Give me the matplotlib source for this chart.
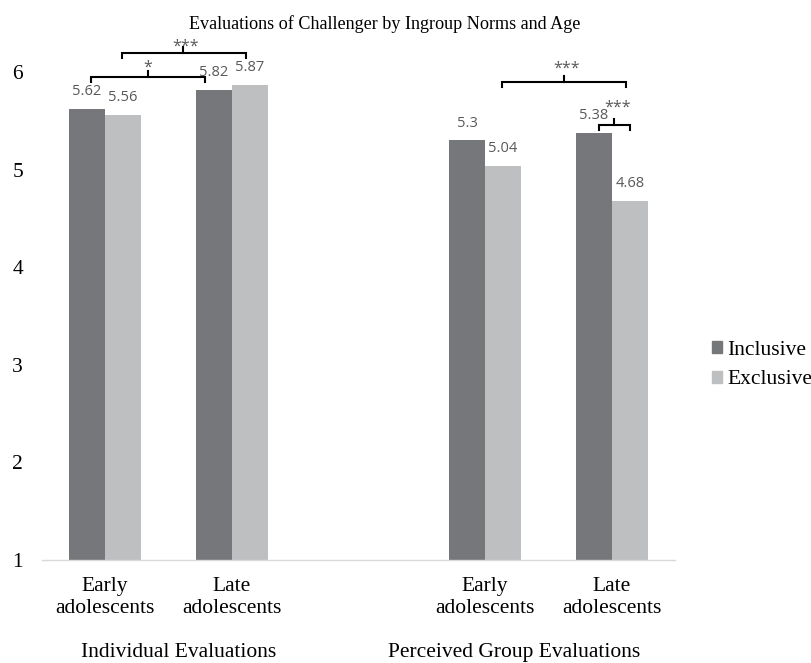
import matplotlib
matplotlib.use("Agg")
import matplotlib.pyplot as plt
from matplotlib.patches import Patch
import numpy as np

# Data
groups = ["Individual Evaluations", "Perceived Group Evaluations"]
ages = ["Early\nadolescents", "Late\nadolescents"]
series_names = ["Inclusive", "Exclusive"]
inclusive = [5.62, 5.82, 5.30, 5.38]
exclusive = [5.56, 5.87, 5.04, 4.68]
yticks = [1, 2, 3, 4, 5, 6]

# Significance brackets: (x_left, x_right, y, tick_x, star_x, star_y, label)
brackets = [
    (-0.11, 0.79, 5.95, 0.34, 0.34, 6.10, "*"),
    (0.134, 1.113, 6.195, 0.618, 0.635, 6.31, "***"),
    (3.133, 4.112, 5.90, 3.62, 3.64, 6.09, "***"),
    (3.899, 4.144, 5.457, 4.017, 4.045, 5.69, "***"),
]

SERIF = ["Liberation Serif", "DejaVu Serif"]
SANS = ["Open Sans", "DejaVu Sans"]
C_INC = "#76777a"
C_EXC = "#bebfc1"
C_LBL = "#595959"
FS = 15.5

fig = plt.figure(figsize=(8.12, 6.63), dpi=100)
ax = fig.add_axes([0.0514, 0.1554, 0.780, 0.736])

# category slots: two per group with an empty slot between the groups
pos = np.array([0, 1, 3, 4], dtype=float)
w = 0.284
b1 = ax.bar(pos - w / 2, np.array(inclusive) - 1, w, bottom=1, color=C_INC, label=series_names[0])
b2 = ax.bar(pos + w / 2, np.array(exclusive) - 1, w, bottom=1, color=C_EXC, label=series_names[1])

for bars, vals in ((b1, inclusive), (b2, exclusive)):
    for r, v in zip(bars, vals):
        ax.annotate(f"{v:g}", (r.get_x() + r.get_width() / 2, v),
                    xytext=(0, 7), textcoords="offset points",
                    ha="center", va="bottom", fontsize=10.5,
                    color=C_LBL, family=SANS)

ax.set_xlim(-0.5, 4.5)
ax.set_ylim(1, 6)
ax.set_yticks(yticks)
ax.set_yticklabels([str(t) for t in yticks], family=SERIF, fontsize=FS)
ax.tick_params(axis="y", length=0, pad=13.5)
ax.set_xticks(pos)
ax.set_xticklabels(ages * 2, family=SERIF, fontsize=FS, linespacing=1.17)
ax.tick_params(axis="x", length=0, pad=12.5)

for s in ("top", "right", "left"):
    ax.spines[s].set_visible(False)
ax.spines["bottom"].set_color("#d9d9d9")
ax.spines["bottom"].set_linewidth(1.0)

# group labels under the category labels
trans = ax.get_xaxis_transform()
for gx, g in zip([0.58, 3.23], groups):
    ax.text(gx, -0.19, g, transform=trans, ha="center", va="center",
            family=SERIF, fontsize=FS)

# significance brackets
for x0, x1, y, tx, sx, sy, lab in brackets:
    ax.plot([x0, x0, x1, x1], [y - 0.05, y, y, y - 0.05], color="black",
            lw=1.5, clip_on=False, solid_joinstyle="miter")
    ax.plot([tx, tx], [y, y + 0.06], color="black", lw=1.5, clip_on=False)
    ax.annotate(lab, (sx, sy), xytext=(0, -6.5), textcoords="offset points",
                ha="center", va="baseline", fontsize=11.5,
                color=C_LBL, family=SANS, annotation_clip=False)

fig.text(0.4735, 0.963, "Evaluations of Challenger by Ingroup Norms and Age",
         ha="center", va="center", family=SERIF, fontsize=13.1)

handles = [Patch(color=C_INC), Patch(color=C_EXC)]
fig.legend(handles, series_names, loc="center left",
           bbox_to_anchor=(0.877, 0.4495), frameon=False,
           prop={"family": SERIF, "size": FS},
           handlelength=0.47, handleheight=0.47, handletextpad=0.25,
           labelspacing=0.5, borderaxespad=0, borderpad=0)

fig.savefig("out.png", dpi=100)
